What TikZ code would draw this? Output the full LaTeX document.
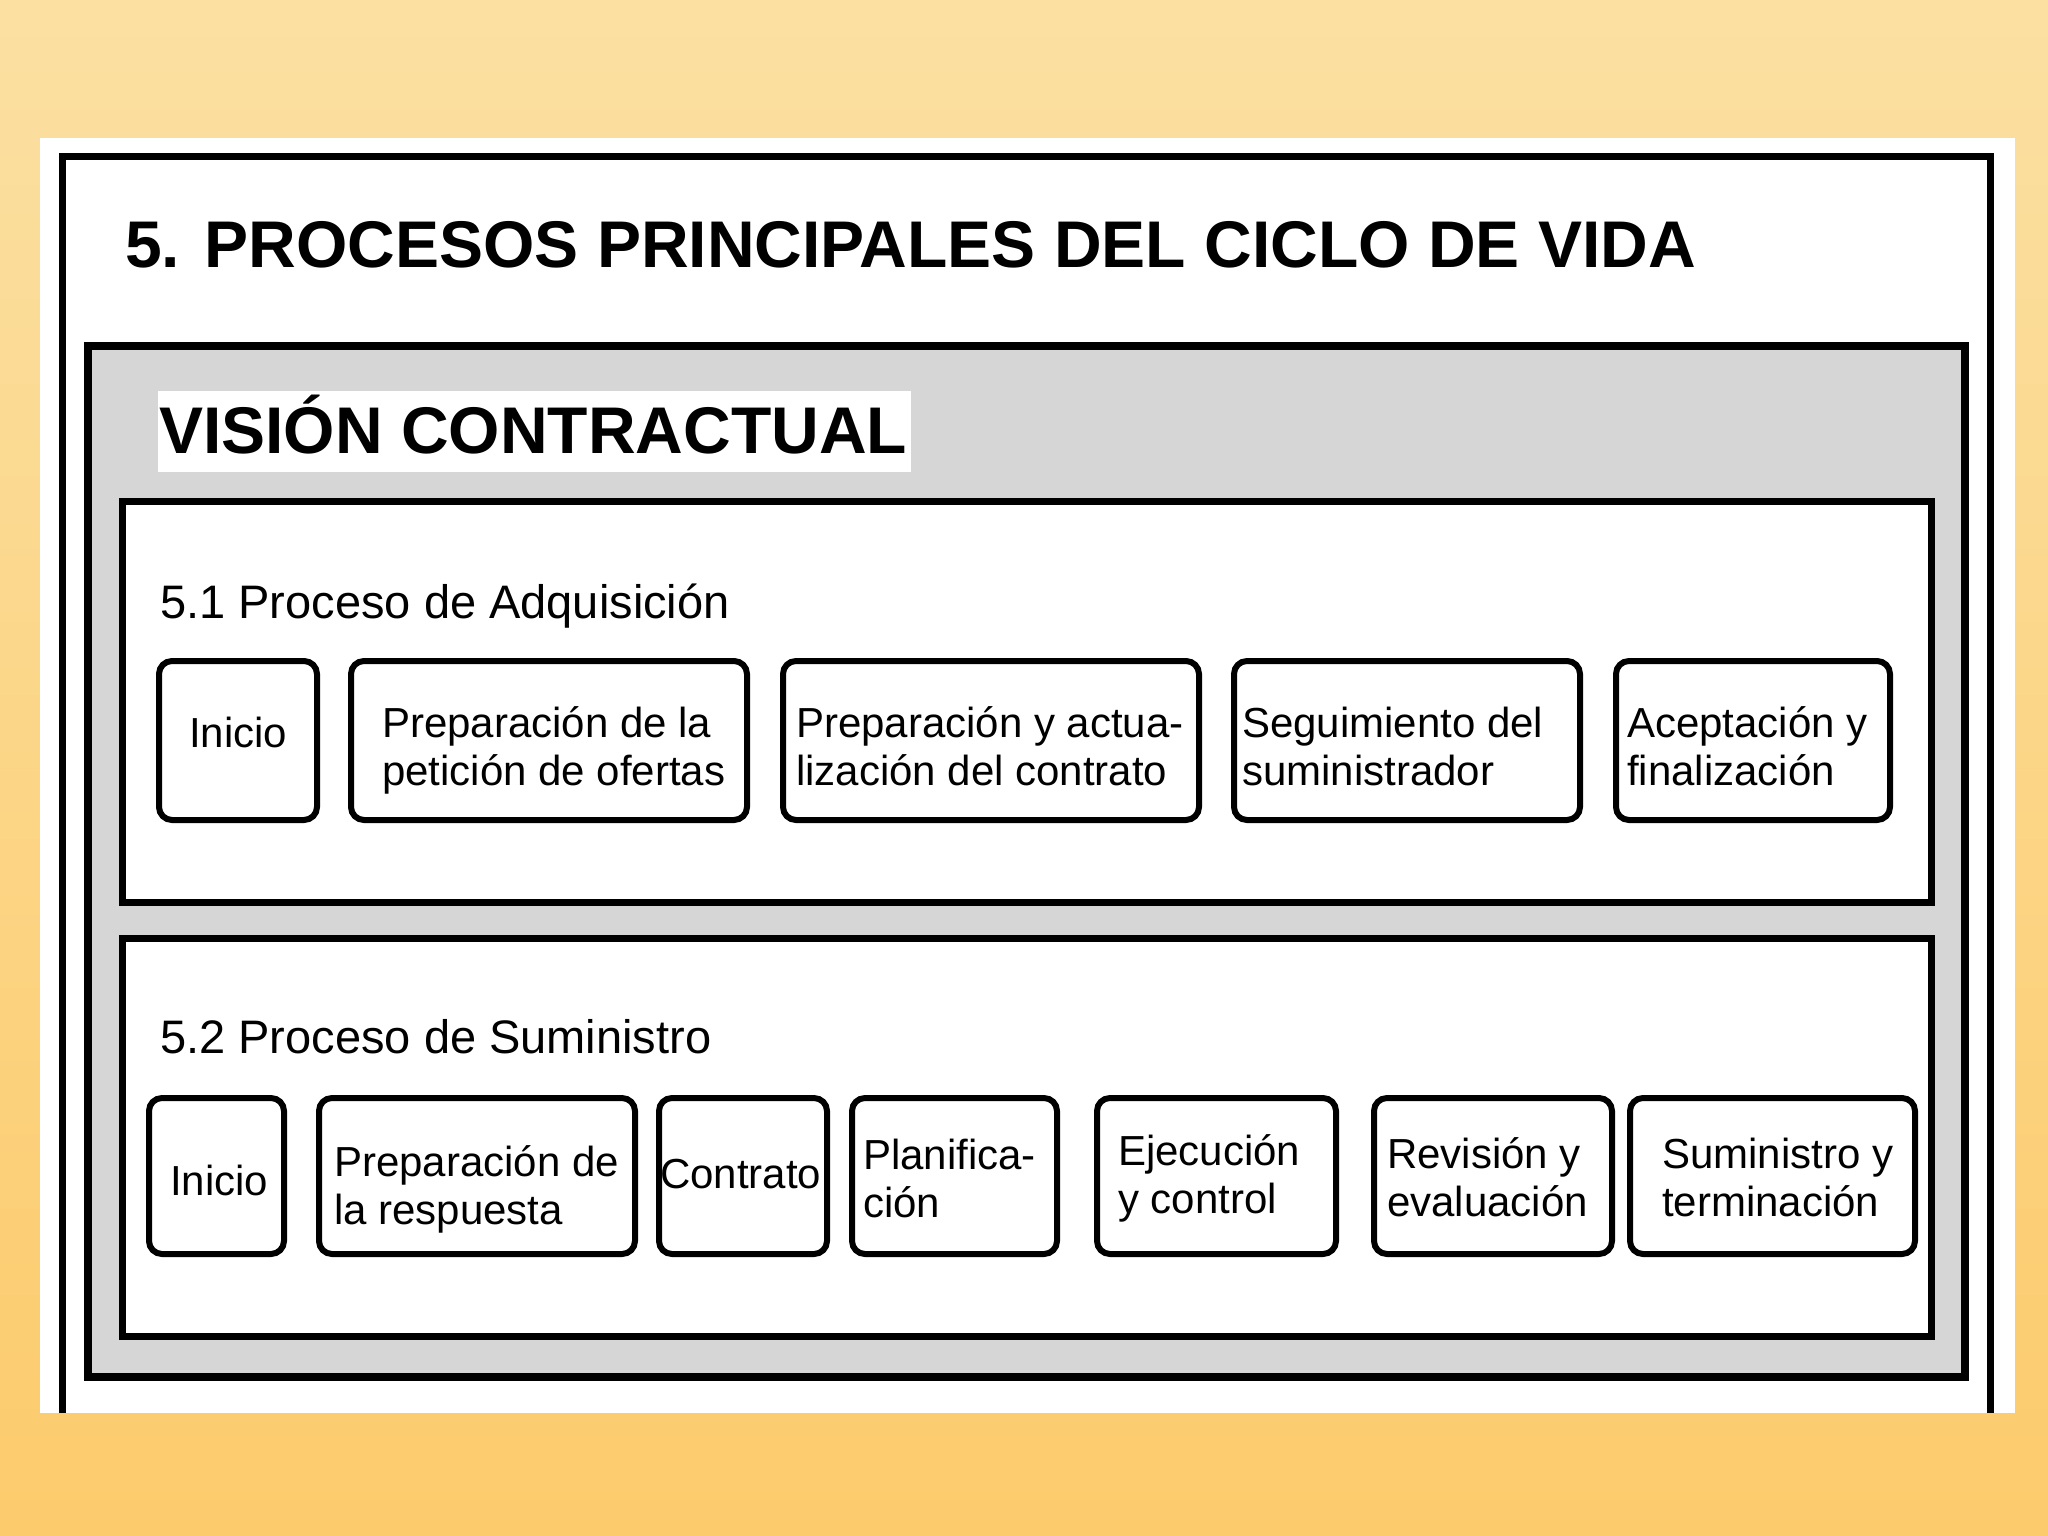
\documentclass[tikz,border=0pt]{standalone}
\usepackage{fontspec}
\setmainfont{Liberation Sans}
\definecolor{bgtop}{HTML}{FBE0A2}
\definecolor{bgbot}{HTML}{FCCB6C}
\definecolor{hatch}{HTML}{D6D6D6}
\begin{document}
\begin{tikzpicture}[x=1pt,y=-1pt,
  pbox/.style={draw=black, line width=6pt, rounded corners=13pt, fill=white, inner sep=0pt},
  btext/.style={anchor=base west, inner sep=0pt, align=left, font=\fontsize{42}{48}\selectfont},
  sectlabel/.style={anchor=base west, inner sep=0pt, font=\fontsize{47}{56}\selectfont},
  heading/.style={anchor=base west, inner sep=0pt, font=\fontsize{66}{79}\selectfont\bfseries},
]
\useasboundingbox (0,0) rectangle (2048,1536);
\shade[top color=bgtop, bottom color=bgbot] (0,0) rectangle (2048,1536);
\fill[white] (40,138) rectangle (2015,1413);
\draw[line width=7pt] (62,1413) -- (62,157) -- (1990,157) -- (1990,1413);
\draw[line width=8pt, fill=hatch] (88,346) rectangle (1964.5,1376.5);
\fill[white] (158,391) rectangle (911,472);
\draw[line width=7pt, fill=white] (122,501) rectangle (1931,902);
\draw[line width=7pt, fill=white] (122,938) rectangle (1931,1336);

\node[heading] (title) at (125,267) {5. PROCESOS PRINCIPALES DEL CICLO DE VIDA};
\node[heading] (vision) at (159,453) {VISIÓN CONTRACTUAL};

\node[sectlabel] (s1) at (160,618) {5.1 Proceso de Adquisición};
\node[sectlabel] (s2) at (160,1053) {5.2 Proceso de Suministro};

% Row 1
\node[pbox, minimum width=158pt, minimum height=159pt] (a1) at (238,740.5) {};
\node[pbox, minimum width=396pt, minimum height=159pt] (a2) at (549,740.5) {};
\node[pbox, minimum width=416pt, minimum height=159pt] (a3) at (991,740.5) {};
\node[pbox, minimum width=346pt, minimum height=159pt] (a4) at (1407,740.5) {};
\node[pbox, minimum width=274pt, minimum height=159pt] (a5) at (1753,740.5) {};

\node[btext] (ta1) at (189,747) {Inicio};
\node[btext] (ta2) at (382,785) {Preparación de la\\petición de ofertas};
\node[btext] (ta3) at (796,785) {Preparación y actua-\\lización del contrato};
\node[btext] (ta4) at (1242,785) {Seguimiento del\\suministrador};
\node[btext] (ta5) at (1627,785) {Aceptación y\\finalización};

% Row 2
\node[pbox, minimum width=135pt, minimum height=156pt] (b1) at (216.5,1176) {};
\node[pbox, minimum width=316pt, minimum height=156pt] (b2) at (477,1176) {};
\node[pbox, minimum width=168pt, minimum height=156pt] (b3) at (743,1176) {};
\node[pbox, minimum width=205pt, minimum height=156pt] (b4) at (954.5,1176) {};
\node[pbox, minimum width=239pt, minimum height=156pt] (b5) at (1216.5,1176) {};
\node[pbox, minimum width=238pt, minimum height=156pt] (b6) at (1493,1176) {};
\node[pbox, minimum width=285pt, minimum height=156pt] (b7) at (1772.5,1176) {};

\node[btext] (tb1) at (170,1195) {Inicio};
\node[btext] (tb2) at (334,1224) {Preparación de\\la respuesta};
\node[btext] (tb3) at (660,1188) {Contrato};
\node[btext] (tb4) at (863,1217) {Planifica-\\ción};
\node[btext] (tb5) at (1118,1213) {Ejecución\\y control};
\node[btext] (tb6) at (1387,1216) {Revisión y\\evaluación};
\node[btext] (tb7) at (1662,1216) {Suministro y\\terminación};
\end{tikzpicture}
\end{document}
